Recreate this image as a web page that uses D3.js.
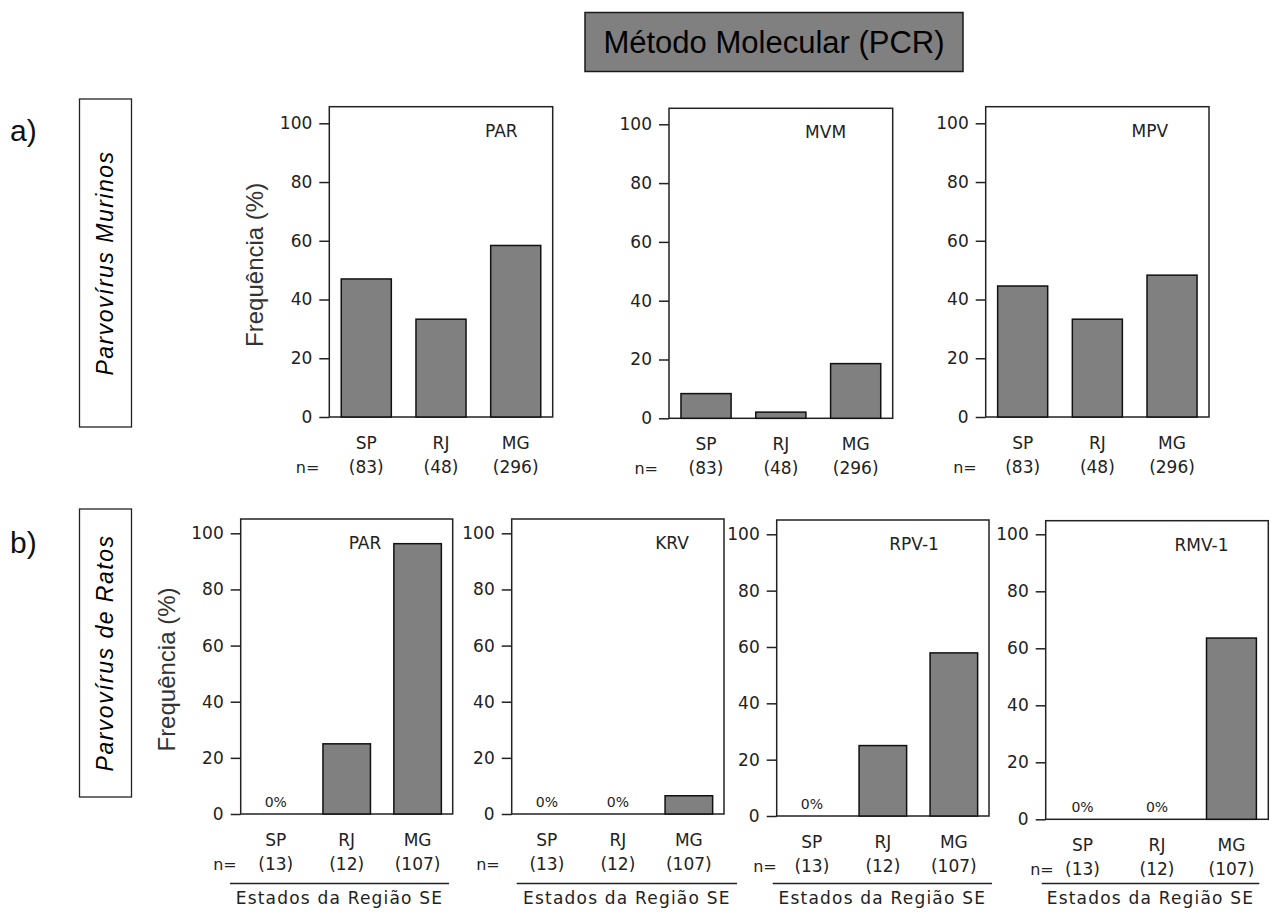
<!DOCTYPE html>
<html><head><meta charset="utf-8">
<script src="https://cdn.jsdelivr.net/npm/d3@7"></script>
<style>body{margin:0;background:#fff}</style>
</head><body><svg id="chart" width="1271" height="914"></svg>
<script>
// ---------- data ----------
const states = ["SP", "RJ", "MG"];
const nMurinos = ["(83)", "(48)", "(296)"];
const nRatos = ["(13)", "(12)", "(107)"];
const yTicks = [0, 20, 40, 60, 80, 100];
const murinosViruses = ["PAR", "MVM", "MPV"];
const parMurinos = [47.0, 33.3, 58.4];
const mvmMurinos = [8.4, 2.1, 18.6];
const mpvMurinos = [44.6, 33.3, 48.3];
const ratosViruses = ["PAR", "KRV", "RPV-1", "RMV-1"];
const parRatos = [0, 25.0, 96.3];
const krvRatos = [0, 0, 6.5];
const rpv1Ratos = [0, 25.0, 57.9];
const rmv1Ratos = [0, 0, 63.6];
const headerTitle = "Método Molecular (PCR)";
const yTitle = "Frequência (%)";
const xTitle = "Estados da Região SE";
const rowLabels = ["a)", "b)"];
const groupLabels = ["Parvovírus Murinos", "Parvovírus de Ratos"];

// ---------- layout ----------
const topLayout = [
  {x0: 329.3, x1: 552.7, yT: 106.7, yB: 417, y100: 123.3, lab: 0.77, nEnd: -10},
  {x0: 669, x1: 892.7, yT: 108.3, yB: 418.3, y100: 124.3, lab: 0.70, nEnd: -11},
  {x0: 985.7, x1: 1209, yT: 106.7, yB: 417, y100: 123.3, lab: 0.735, nEnd: -9}
];
const botLayout = [
  {x0: 240.7, x1: 452.7, yT: 519, yB: 814, y100: 533.3, lab: 0.586, nEnd: -4, u0: -10.7, u1: -3.7},
  {x0: 511.7, x1: 724, yT: 519, yB: 814, y100: 533.3, lab: 0.755, nEnd: -12, u0: 5, u1: 13},
  {x0: 776.7, x1: 989, yT: 520, yB: 816, y100: 534.3, lab: 0.647, nEnd: 0, u0: -4, u1: 3},
  {x0: 1045.7, x1: 1268.3, yT: 520.7, yB: 819.3, y100: 534.3, lab: 0.70, nEnd: 8, u0: -4, u1: -9}
];

const FONT = "'DejaVu Sans', sans-serif";
const svg = d3.select("#chart");

// header box
svg.append("rect").attr("x", 585).attr("y", 12.5).attr("width", 378).attr("height", 59)
  .attr("fill", "#808080").attr("stroke", "#1a1a1a").attr("stroke-width", 1.5);
svg.append("text").attr("x", 774).attr("y", 53).attr("text-anchor", "middle")
  .attr("font-family", "'Liberation Sans', Arial, sans-serif").attr("font-size", 31)
  .attr("fill", "#000").text(headerTitle);

// row labels & group boxes
const groupBoxes = [{y0: 99, y1: 427, ly: 141}, {y0: 509, y1: 797, ly: 553}];
groupBoxes.forEach((g, i) => {
  svg.append("text").attr("x", 10).attr("y", g.ly)
    .attr("font-family", "'Liberation Sans', Arial, sans-serif").attr("font-size", 30)
    .attr("fill", "#111").text(rowLabels[i]);
  svg.append("rect").attr("x", 79.5).attr("y", g.y0).attr("width", 52).attr("height", g.y1 - g.y0)
    .attr("fill", "#fff").attr("stroke", "#222").attr("stroke-width", 1.3);
  const cy = (g.y0 + g.y1) / 2;
  svg.append("text").attr("transform", `translate(113,${cy}) rotate(-90)`)
    .attr("text-anchor", "middle").attr("font-family", "'Liberation Sans', Arial, sans-serif")
    .attr("font-style", "italic").attr("font-size", 23).attr("letter-spacing", 1.5)
    .attr("fill", "#000").text(groupLabels[i]);
});

function drawPanel(p, values, virus, nLabels, showYTitle, showXTitle) {
  const g = svg.append("g");
  const x = d3.scaleBand().domain(states).range([p.x0, p.x1]).paddingInner(0.33).paddingOuter(0.16);
  const y = d3.scaleLinear().domain([0, 100]).range([p.yB, p.y100]);

  // frame
  g.append("rect").attr("x", p.x0).attr("y", p.yT).attr("width", p.x1 - p.x0).attr("height", p.yB - p.yT)
    .attr("fill", "none").attr("stroke", "#222").attr("stroke-width", 1.5);

  // y axis ticks
  const ax = g.append("g").attr("transform", `translate(${p.x0},0)`)
    .call(d3.axisLeft(y).tickValues(yTicks).tickSize(10).tickPadding(7));
  ax.select(".domain").remove();
  ax.selectAll(".tick line").attr("stroke", "#222").attr("stroke-width", 1.5);
  ax.selectAll(".tick text").attr("font-family", FONT).attr("font-size", 17).attr("fill", "#222");

  // bars
  const data = states.map((s, i) => ({s, v: values[i]}));
  g.selectAll("rect.bar").data(data.filter(d => d.v > 0)).join("rect").attr("class", "bar")
    .attr("x", d => x(d.s)).attr("width", x.bandwidth())
    .attr("y", d => y(d.v)).attr("height", d => y(0) - y(d.v))
    .attr("fill", "#808080").attr("stroke", "#111").attr("stroke-width", 1.5);

  // zero labels
  g.selectAll("text.zero").data(data.filter(d => d.v === 0)).join("text").attr("class", "zero")
    .attr("x", d => x(d.s) + x.bandwidth() / 2).attr("y", y(0) - 7)
    .attr("text-anchor", "middle").attr("font-family", FONT).attr("font-size", 14).attr("fill", "#222")
    .text("0%");

  // virus label
  g.append("text").attr("x", p.x0 + (p.x1 - p.x0) * p.lab).attr("y", p.yT + 30)
    .attr("text-anchor", "middle").attr("font-family", FONT).attr("font-size", 17).attr("fill", "#222")
    .text(virus);

  // categories and n
  g.selectAll("text.cat").data(states).join("text").attr("class", "cat")
    .attr("x", d => x(d) + x.bandwidth() / 2).attr("y", p.yB + 32)
    .attr("text-anchor", "middle").attr("font-family", FONT).attr("font-size", 17).attr("fill", "#222")
    .text(d => d);
  g.selectAll("text.n").data(nLabels).join("text").attr("class", "n")
    .attr("x", (d, i) => x(states[i]) + x.bandwidth() / 2).attr("y", p.yB + 56)
    .attr("text-anchor", "middle").attr("font-family", FONT).attr("font-size", 17).attr("fill", "#222")
    .text(d => d);
  g.append("text").attr("x", p.x0 + p.nEnd).attr("y", p.yB + 56).attr("text-anchor", "end")
    .attr("font-family", FONT).attr("font-size", 16).attr("fill", "#222").text("n=");

  if (showYTitle) {
    g.append("text").attr("transform", `translate(${p.x0 - 66},${(p.yT + p.yB) / 2 + 3}) rotate(-90)`)
      .attr("text-anchor", "middle").attr("font-family", "'Liberation Sans', Arial, sans-serif")
      .attr("font-size", 24).attr("fill", "#333").text(yTitle);
  }
  if (showXTitle) {
    g.append("line").attr("x1", p.x0 + p.u0).attr("x2", p.x1 + p.u1).attr("y1", 883.5).attr("y2", 883.5)
      .attr("stroke", "#222").attr("stroke-width", 1.5);
    g.append("text").attr("x", (p.x0 + p.u0 + p.x1 + p.u1) / 2).attr("y", 904)
      .attr("text-anchor", "middle").attr("font-family", FONT).attr("font-size", 17)
      .attr("letter-spacing", 1.2).attr("fill", "#222").text(xTitle);
  }
}

const murinosSeries = [parMurinos, mvmMurinos, mpvMurinos];
topLayout.forEach((p, i) => drawPanel(p, murinosSeries[i], murinosViruses[i], nMurinos, i === 0, false));
const ratosSeries = [parRatos, krvRatos, rpv1Ratos, rmv1Ratos];
botLayout.forEach((p, i) => drawPanel(p, ratosSeries[i], ratosViruses[i], nRatos, i === 0, true));
</script>
</body></html>
